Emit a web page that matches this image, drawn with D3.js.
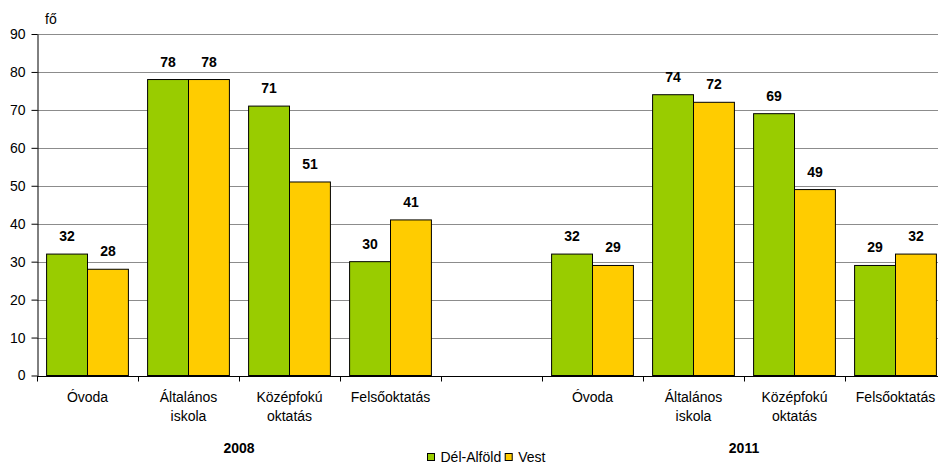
<!DOCTYPE html>
<html><head><meta charset="utf-8">
<script src="https://cdn.jsdelivr.net/npm/d3@7"></script>
<style>body{margin:0;background:#fff;} svg{display:block;font-family:"Liberation Sans",Arial,sans-serif;}</style>
</head><body><svg id="c" width="938" height="465"></svg>
<script>
const categories = ["Óvoda","Általános iskola","Középfokú oktatás","Felsőoktatás","","Óvoda","Általános iskola","Középfokú oktatás","Felsőoktatás"];
const categoryLines = [["Óvoda"],["Általános","iskola"],["Középfokú","oktatás"],["Felsőoktatás"],[],["Óvoda"],["Általános","iskola"],["Középfokú","oktatás"],["Felsőoktatás"]];
const delAlfold = [32,78,71,30,null,32,74,69,29];
const vest = [28,78,51,41,null,29,72,49,32];
const seriesNames = ["Dél-Alföld","Vest"];
const seriesColors = ["#99CC00","#FFCC00"];
const years = ["2008","2011"];
const yearGroups = [[0,3],[5,8]];
const yTicks = [0,10,20,30,40,50,60,70,80,90];
const unit = "fő";

(function(){
const svg = d3.select("#c");
const pl = 37, pr = 946, pt = 34, pb = 375.5;
const x = d3.scaleBand().domain(d3.range(categories.length)).range([pl,pr]);
const y = d3.scaleLinear().domain([0,90]).range([pb,pt]);
const bw = x.bandwidth();

// gridlines
svg.append("g").selectAll("line").data(yTicks.filter(d=>d>0)).join("line")
  .attr("x1",pl).attr("x2",pr).attr("y1",d=>Math.round(y(d))+0.5).attr("y2",d=>Math.round(y(d))+0.5)
  .attr("stroke","#8c8c8c").attr("stroke-width",1);

// bars
const series = [delAlfold, vest];
series.forEach((vals,si)=>{
  const g = svg.append("g");
  vals.forEach((v,i)=>{
    if(v==null) return;
    const x0 = x(i) + bw*0.095 + si*bw*0.405;
    g.append("rect").attr("x",x0).attr("y",y(v)).attr("width",bw*0.405).attr("height",y(0)-y(v))
      .attr("fill",seriesColors[si]).attr("stroke","#000").attr("stroke-width",1);
    g.append("text").attr("x",x0+bw*0.2025).attr("y",y(v)-13).attr("text-anchor","middle")
      .attr("font-size",14).attr("font-weight","bold").attr("fill","#000").text(v);
  });
});

// y axis
const ya = svg.append("g").attr("transform",`translate(${pl+0.5},0)`)
  .call(d3.axisLeft(y).tickValues(yTicks).tickSize(6).tickSizeOuter(0));
ya.select(".domain").attr("stroke","#000");
ya.selectAll(".tick line").attr("stroke","#000");
ya.selectAll(".tick text").attr("font-size",14).attr("fill","#000").attr("x",-12).attr("font-family","Liberation Sans, Arial, sans-serif");

// x axis
const xa = svg.append("g").attr("transform",`translate(0,${Math.round(pb)+0.5})`);
xa.append("line").attr("x1",pl).attr("x2",pr).attr("stroke","#000");
xa.selectAll("line.t").data(d3.range(categories.length+1)).join("line").attr("class","t")
  .attr("x1",i=>Math.round(pl+i*bw)+0.5).attr("x2",i=>Math.round(pl+i*bw)+0.5).attr("y1",0).attr("y2",5).attr("stroke","#000");
categoryLines.forEach((lines,i)=>{
  lines.forEach((t,k)=>{
    svg.append("text").attr("x",x(i)+bw/2).attr("y",402+k*19).attr("text-anchor","middle")
      .attr("font-size",14).attr("fill","#000").text(t);
  });
});
years.forEach((yr,j)=>{
  const [a,b] = yearGroups[j];
  svg.append("text").attr("x",(x(a)+x(b)+bw)/2).attr("y",453).attr("text-anchor","middle")
    .attr("font-size",14).attr("font-weight","bold").attr("fill","#000").text(yr);
});

// unit
svg.append("text").attr("x",45).attr("y",24).attr("font-size",14).attr("fill","#000").text(unit);

// legend
const lg = svg.append("g");
let lx = 427.5;
seriesNames.forEach((n,i)=>{
  lg.append("rect").attr("x",lx).attr("y",453.5).attr("width",7).attr("height",7)
    .attr("fill",seriesColors[i]).attr("stroke","#000").attr("stroke-width",1);
  const t = lg.append("text").attr("x",lx+13).attr("y",462).attr("font-size",14).attr("fill","#000").text(n);
  lx += 13 + t.node().getComputedTextLength() + 4;
});
})();
</script></body></html>
